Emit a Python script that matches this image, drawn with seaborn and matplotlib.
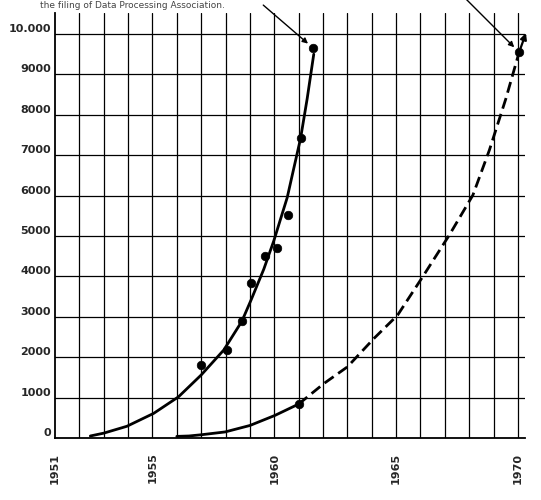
import matplotlib
matplotlib.use("Agg")
import matplotlib.pyplot as plt
import seaborn as sns
import pandas as pd

# ---- data ----
# solid curve (left)
curve1_year = [1952.45, 1953.0, 1953.95, 1955.05, 1956.07, 1957.0, 1957.93, 1958.67,
               1959.05, 1959.57, 1959.98, 1960.53, 1960.78, 1961.08, 1961.35, 1961.62]
curve1_val = [50, 120, 290, 610, 1020, 1560, 2180, 2890,
              3420, 4180, 4880, 5950, 6620, 7420, 8400, 9500]
points1_year = [1957.0, 1958.04, 1958.67, 1959.05, 1959.6, 1960.1, 1960.56, 1961.1, 1961.6]
points1_val = [1807, 2180, 2890, 3840, 4500, 4700, 5530, 7420, 9650]

# right curve: solid part then dashed projection
curve2_solid_year = [1956.0, 1956.5, 1957.0, 1957.98, 1959.0, 1960.03, 1961.0]
curve2_solid_val = [40, 50, 80, 150, 310, 560, 840]
curve2_dash_year = [1961.0, 1962.04, 1963.0, 1964.1, 1965.06, 1966.09, 1967.18,
                    1968.15, 1968.83, 1969.5, 1970.05]
curve2_dash_val = [840, 1350, 1760, 2470, 3040, 3990, 5020, 6010, 7130, 8390, 9550]
points2_year = [1961.0, 1970.05]
points2_val = [830, 9550]

x_ticks = list(range(1951, 1971))
x_labels = ["1951", "1955", "1960", "1965", "1970"]
y_ticks = list(range(0, 10001, 1000))
y_labels = ["0", "1000", "2000", "3000", "4000", "5000", "6000", "7000", "8000", "9000", "10.000"]

sns.set_style("white")
plt.rcParams["font.family"] = ["DejaVu Sans"]

fig = plt.figure(figsize=(5.41, 5.0), dpi=100)
ax = fig.add_axes([55 / 541, 62 / 500, 470 / 541, 425 / 500])

ax.set_xlim(1951, 1970.29)
ax.set_ylim(0, 10520)

# grid
for xv in x_ticks[1:]:
    ax.axvline(xv, color="black", lw=0.9, zorder=1)
for yv in y_ticks[1:]:
    ax.axhline(yv, color="black", lw=0.9, zorder=1)

df1 = pd.DataFrame({"year": curve1_year, "val": curve1_val})
df2s = pd.DataFrame({"year": curve2_solid_year, "val": curve2_solid_val})
df2d = pd.DataFrame({"year": curve2_dash_year, "val": curve2_dash_val})
p1 = pd.DataFrame({"year": points1_year, "val": points1_val})
p2 = pd.DataFrame({"year": points2_year, "val": points2_val})

sns.lineplot(data=df1, x="year", y="val", ax=ax, color="black", lw=2.0,
             estimator=None, sort=False, zorder=3)
sns.lineplot(data=df2s, x="year", y="val", ax=ax, color="black", lw=2.0,
             estimator=None, sort=False, zorder=3)
n_before = len(ax.lines)
sns.lineplot(data=df2d, x="year", y="val", ax=ax, color="black", lw=2.0,
             estimator=None, sort=False, zorder=3)
for ln in ax.lines[n_before:]:
    ln.set_dashes((4, 2))
for ln in ax.lines:
    ln.set_solid_joinstyle("round")
    ln.set_solid_capstyle("round")

sns.scatterplot(data=p1, x="year", y="val", ax=ax, color="black", s=38,
                edgecolor="black", zorder=4)
sns.scatterplot(data=p2, x="year", y="val", ax=ax, color="black", s=38,
                edgecolor="black", zorder=4)

# arrowhead at the end of the dashed projection
ax.annotate("", xy=(1970.33, 10025), xytext=(points2_year[-1], points2_val[-1]),
            arrowprops=dict(arrowstyle="-|>", color="black", lw=1.6,
                            mutation_scale=9, shrinkA=3, shrinkB=0),
            annotation_clip=False, zorder=5)

# pointer arrows from the caption text
ax.annotate("", xy=(points1_year[-1], points1_val[-1]), xycoords="data",
            xytext=(-36, 31), textcoords="offset points",
            arrowprops=dict(arrowstyle="-|>", color="black", lw=1.0,
                            mutation_scale=8, shrinkA=0, shrinkB=5),
            annotation_clip=False)
ax.annotate("", xy=(points2_year[-1], points2_val[-1]), xycoords="data",
            xytext=(-44, 44), textcoords="offset points",
            arrowprops=dict(arrowstyle="-|>", color="black", lw=1.0,
                            mutation_scale=8, shrinkA=0, shrinkB=5),
            annotation_clip=False)

fig.text(40 / 541, 1 - 1 / 500, "the filing of Data Processing Association.",
         fontsize=6.5, color="#444444", va="top", ha="left")

# axes styling
for s in ["top", "right"]:
    ax.spines[s].set_visible(False)
for s in ["left", "bottom"]:
    ax.spines[s].set_color("black")
    ax.spines[s].set_linewidth(1.3)

ax.set_xticks(x_ticks)
ax.set_xticklabels([str(y) if str(y) in x_labels else "" for y in x_ticks],
                   rotation=90, fontsize=8, fontweight="bold")
ax.set_yticks(y_ticks)
ax.set_yticklabels(y_labels, fontsize=8, fontweight="bold")
for lab in ax.get_yticklabels():
    lab.set_va("bottom")
ax.tick_params(axis="x", direction="out", length=4.5, width=1.0, pad=6, color="black")
ax.tick_params(axis="y", direction="out", length=3, width=1.0, pad=0, color="black")
ax.set_xlabel("")
ax.set_ylabel("")
ax.grid(False)

fig.savefig("out.png", dpi=100)
